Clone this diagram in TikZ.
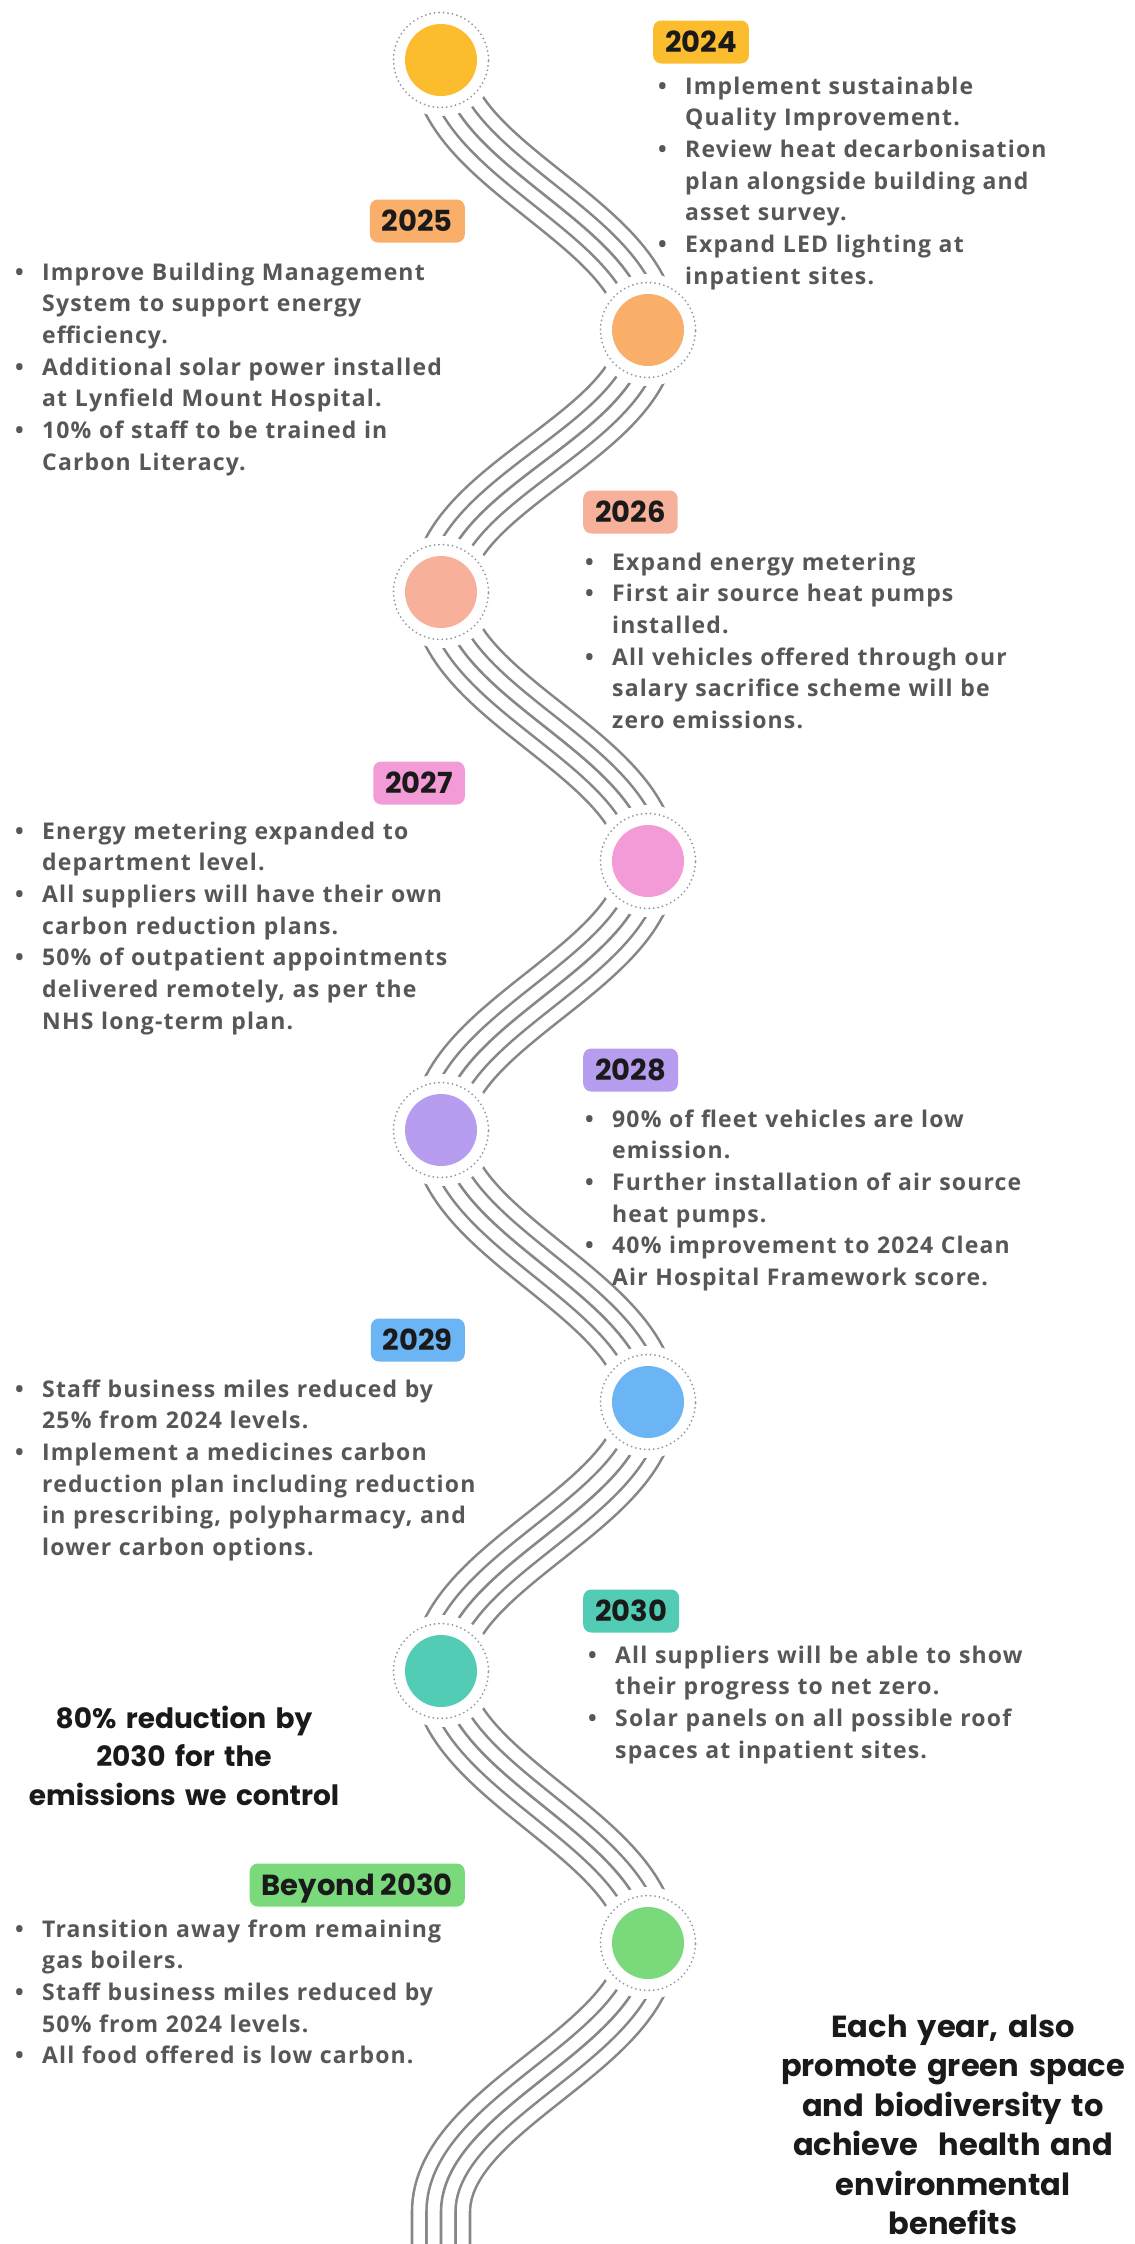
\documentclass[tikz,border=0pt]{standalone}
\usepackage{fontspec}
\setmainfont{Open Sans}[LetterSpace=5]
\newfontfamily\headfont{Poppins}
\usetikzlibrary{backgrounds}
\definecolor{tone24}{HTML}{FBBC2E}
\definecolor{tone25}{HTML}{F9AE6A}
\definecolor{tone26}{HTML}{F7B19B}
\definecolor{tone27}{HTML}{F39BD6}
\definecolor{tone28}{HTML}{B79DF0}
\definecolor{tone29}{HTML}{6CB5F5}
\definecolor{tone30}{HTML}{52CCB4}
\definecolor{tonefw}{HTML}{7AD97A}
\definecolor{wavegray}{HTML}{878787}
\definecolor{ringgray}{HTML}{8E98A9}
\definecolor{bodygray}{HTML}{575757}
\definecolor{inkblack}{HTML}{1A1A1A}
\newcommand{\itm}{\makebox[27pt][l]{\textbullet}}
\newcommand{\cnt}{\hspace*{27pt}}
\tikzset{
  milestone/.style={circle, minimum size=112pt, inner sep=0pt, fill=white,
    path picture={\fill[#1] (path picture bounding box.center) circle[radius=36pt];
      \draw[ringgray, line width=2pt, line cap=round, dash pattern=on 0pt off 4.5pt]
        (path picture bounding box.center) circle[radius=47.5pt];}},
  yeartag/.style={fill=#1, rounded corners=8pt, inner xsep=12pt, inner ysep=0pt,
    minimum height=43pt, text height=20pt, text depth=0pt, text=inkblack,
    font=\headfont\bfseries\fontsize{29}{30}\selectfont},
  bullets/.style={anchor=base west, inner sep=0pt, text width=520pt, align=left,
    text=bodygray, font=\bfseries\fontsize{23}{31.7}\selectfont},
  claim/.style={anchor=base, inner sep=0pt, text width=420pt, align=center,
    text=inkblack, font=\headfont\bfseries\fontsize{28}{38.5}\selectfont}
}
\begin{document}
\begin{tikzpicture}[x=1pt, y=-1pt]
\useasboundingbox (0,0) rectangle (1135,2244);

\node[milestone=tone24] (m24) at (441,60) {};
\node[milestone=tone25] (m25) at (648,330) {};
\node[milestone=tone26] (m26) at (441,592) {};
\node[milestone=tone27] (m27) at (648,861) {};
\node[milestone=tone28] (m28) at (441,1130) {};
\node[milestone=tone29] (m29) at (648,1402) {};
\node[milestone=tone30] (m30) at (441,1671) {};
\node[milestone=tonefw] (mfw) at (648,1943) {};
\coordinate (tail) at (441,2212);
\coordinate (end) at (441,2290);

\begin{scope}[on background layer]
\fill[white] (0,0) rectangle (1135,2244);
\foreach \w/\c in {60.6/wavegray, 55.4/white, 31.6/wavegray, 26.4/white, 2.6/wavegray}
  \draw[line width=\w pt, \c] (m24.center)
    .. controls +(0,105) and +(0,-105) .. (m25.center)
    .. controls +(0,105) and +(0,-105) .. (m26.center)
    .. controls +(0,105) and +(0,-105) .. (m27.center)
    .. controls +(0,105) and +(0,-105) .. (m28.center)
    .. controls +(0,105) and +(0,-105) .. (m29.center)
    .. controls +(0,105) and +(0,-105) .. (m30.center)
    .. controls +(0,105) and +(0,-105) .. (mfw.center)
    .. controls +(0,105) and +(0,-105) .. (tail) -- (end);
\end{scope}

\node[yeartag=tone24, anchor=west] (t24) at (653,42) {2024};
\node[yeartag=tone25, anchor=east] (t25) at (465,221) {2025};
\node[yeartag=tone26, anchor=west] (t26) at (583,512) {2026};
\node[yeartag=tone27, anchor=east] (t27) at (465,783) {2027};
\node[yeartag=tone28, anchor=west] (t28) at (583,1070) {2028};
\node[yeartag=tone29, anchor=east] (t29) at (465,1340) {2029};
\node[yeartag=tone30, anchor=west] (t30) at (583,1611) {2030};
\node[yeartag=tonefw, anchor=east] (tfw) at (465,1885) {Beyond 2030};

\node[bullets] (b24) at (658,94) {\itm Implement sustainable\\ \cnt Quality Improvement.\\
  \itm Review heat decarbonisation\\ \cnt plan alongside building and\\ \cnt asset survey.\\
  \itm Expand LED lighting at\\ \cnt inpatient sites.};
\node[bullets] (b25) at (15,280) {\itm Improve Building Management\\ \cnt System to support energy\\ \cnt efficiency.\\
  \itm Additional solar power installed\\ \cnt at Lynfield Mount Hospital.\\
  \itm 10\% of staff to be trained in\\ \cnt Carbon Literacy.};
\node[bullets] (b26) at (585,570) {\itm Expand energy metering\\
  \itm First air source heat pumps\\ \cnt installed.\\
  \itm All vehicles offered through our\\ \cnt salary sacrifice scheme will be\\ \cnt zero emissions.};
\node[bullets] (b27) at (15,839) {\itm Energy metering expanded to\\ \cnt department level.\\
  \itm All suppliers will have their own\\ \cnt carbon reduction plans.\\
  \itm 50\% of outpatient appointments\\ \cnt delivered remotely, as per the\\ \cnt NHS long-term plan.};
\node[bullets] (b28) at (585,1127) {\itm 90\% of fleet vehicles are low\\ \cnt emission.\\
  \itm Further installation of air source\\ \cnt heat pumps.\\
  \itm 40\% improvement to 2024 Clean\\ \cnt Air Hospital Framework score.};
\node[bullets] (b29) at (15,1397) {\itm Staff business miles reduced by\\ \cnt 25\% from 2024 levels.\\
  \itm Implement a medicines carbon\\ \cnt reduction plan including reduction\\ \cnt in prescribing, polypharmacy, and\\ \cnt lower carbon options.};
\node[bullets] (b30) at (588,1663) {\itm All suppliers will be able to show\\ \cnt their progress to net zero.\\
  \itm Solar panels on all possible roof\\ \cnt spaces at inpatient sites.};
\node[bullets] (bfw) at (15,1937) {\itm Transition away from remaining\\ \cnt gas boilers.\\
  \itm Staff business miles reduced by\\ \cnt 50\% from 2024 levels.\\
  \itm All food offered is low carbon.};

\node[claim] (goal) at (184,1728) {80\% reduction by\\2030 for the\\emissions we control};
\node[claim, font=\headfont\bfseries\fontsize{30.5}{39.5}\selectfont] (yearly) at (953,2037) {Each year, also\\promote green space\\and biodiversity to\\achieve~ health and\\environmental\\benefits};
\end{tikzpicture}
\end{document}
